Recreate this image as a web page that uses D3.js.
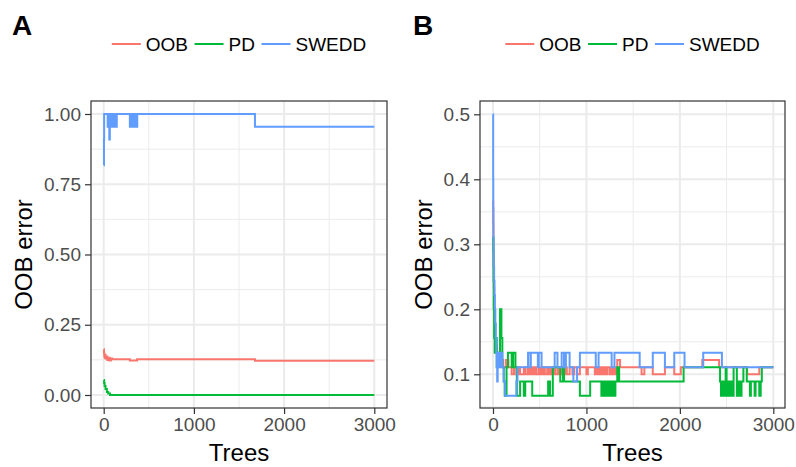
<!DOCTYPE html>
<html>
<head>
<meta charset="utf-8">
<script src="https://cdnjs.cloudflare.com/ajax/libs/d3/7.8.5/d3.min.js"></script>
<style>
  html, body { margin: 0; padding: 0; background: #fff; }
  svg { display: block; font-family: "Liberation Sans", Arial, Helvetica, sans-serif; }
</style>
</head>
<body>
<svg id="chart" width="796" height="467"></svg>
<script>
// Series names, in drawing order (SWEDD ends up on top)
const seriesNames = ["OOB", "PD", "SWEDD"];

// Axis ticks
const xTicks = [0, 1000, 2000, 3000];
const yTicksA = [0, 0.25, 0.5, 0.75, 1];
const yTicksB = [0.1, 0.2, 0.3, 0.4, 0.5];

// Panel A: OOB error per number of trees, [trees, error] at each change
const aOOB = [[1,0.163],[3,0.15],[6,0.14],[10,0.133],[15,0.143],[20,0.13],[30,0.137],[40,0.125],
  [50,0.133],[65,0.123],[80,0.13],[95,0.127],[290,0.123],[370,0.127],[1677,0.122],[3000,0.122]];
const aPD = [[1,0.053],[5,0.043],[10,0.032],[20,0.021],[35,0.011],[50,0.005],[70,0],[3000,0]];
const aSWEDD = [[1,0.818],[3,0.909],[5,1],[44,0.955],[50,1],[55,0.955],[62,0.909],[68,1],[75,0.955],
  [85,1],[95,0.955],[105,1],[115,0.955],[125,1],[135,0.955],[145,1],[155,1],[290,0.955],[300,1],
  [310,0.955],[325,1],[335,0.955],[350,1],[360,0.955],[372,1],[1677,0.955],[3000,0.955]];

// Panel B: OOB error per number of trees, [trees, error] at each change
const bOOB = [[1,0.367],[2,0.333],[4,0.3],[6,0.267],[9,0.233],[13,0.2],[18,0.178],[24,0.156],[32,0.144],
  [40,0.133],[55,0.122],[70,0.133],[90,0.122],[110,0.111],[140,0.122],[165,0.111],[200,0.1],[225,0.111],
  [250,0.1],[275,0.111],[290,0.1],[330,0.111],[345,0.1],[370,0.111],[385,0.1],[400,0.111],[410,0.1],
  [430,0.111],[440,0.1],[455,0.111],[465,0.1],[490,0.111],[500,0.1],[515,0.111],[525,0.1],[545,0.111],
  [555,0.1],[580,0.111],[595,0.1],[615,0.111],[630,0.1],[650,0.111],[665,0.1],[690,0.111],[705,0.1],
  [720,0.111],[740,0.1],[770,0.111],[790,0.1],[820,0.111],[850,0.1],[870,0.111],[900,0.1],[930,0.111],
  [1000,0.1],[1015,0.111],[1090,0.1],[1100,0.111],[1120,0.1],[1135,0.111],[1150,0.1],[1160,0.111],
  [1180,0.1],[1190,0.111],[1210,0.1],[1225,0.111],[1250,0.1],[1260,0.111],[1280,0.1],[1290,0.111],
  [1310,0.1],[1320,0.111],[1330,0.122],[1360,0.111],[1590,0.1],[1620,0.111],[1710,0.1],[1840,0.111],
  [1940,0.1],[2010,0.111],[2240,0.122],[2420,0.111],[2720,0.1],[2850,0.111],[3000,0.111]];
const bPD = [[1,0.311],[3,0.289],[5,0.244],[8,0.2],[12,0.156],[18,0.133],[30,0.156],[40,0.111],[55,0.133],
  [75,0.2],[90,0.156],[100,0.111],[115,0.089],[125,0.067],[145,0.111],[160,0.133],[200,0.111],[215,0.133],
  [240,0.111],[255,0.067],[290,0.089],[330,0.067],[345,0.089],[420,0.067],[590,0.089],[610,0.067],
  [640,0.111],[720,0.089],[750,0.111],[760,0.089],[930,0.067],[1040,0.089],[1160,0.067],[1175,0.089],
  [1190,0.067],[1205,0.089],[1225,0.067],[1240,0.089],[1260,0.067],[1280,0.089],[1295,0.067],[1310,0.089],
  [1330,0.111],[1350,0.089],[2040,0.111],[2430,0.089],[2440,0.067],[2460,0.089],[2475,0.067],[2490,0.111],
  [2500,0.067],[2515,0.089],[2530,0.067],[2545,0.089],[2560,0.067],[2575,0.111],[2610,0.067],[2625,0.089],
  [2640,0.067],[2660,0.089],[2680,0.111],[2716,0.089],[2750,0.067],[2760,0.089],[2800,0.067],[2810,0.089],
  [2850,0.067],[2865,0.089],[2877,0.111],[3000,0.111]];
const bSWEDD = [[1,0.5],[2,0.4],[3,0.356],[5,0.311],[8,0.267],[12,0.244],[16,0.222],[20,0.2],[25,0.178],
  [30,0.156],[35,0.133],[40,0.111],[45,0.089],[50,0.133],[65,0.111],[80,0.133],[100,0.111],[115,0.089],
  [130,0.067],[250,0.089],[262,0.111],[375,0.133],[400,0.111],[405,0.133],[480,0.111],[490,0.133],
  [520,0.111],[660,0.133],[690,0.111],[735,0.133],[760,0.111],[780,0.133],[820,0.111],[860,0.089],
  [900,0.111],[930,0.133],[1100,0.111],[1130,0.133],[1270,0.111],[1300,0.133],[1570,0.111],[1710,0.133],
  [1840,0.111],[1940,0.133],[2050,0.111],[2250,0.133],[2450,0.111],[3000,0.111]];

const colors = { OOB: "#F8766D", PD: "#00BA38", SWEDD: "#619CFF" };

const panels = [
  {
    tag: "A", tagX: 12,
    box: { left: 91, right: 387, top: 101, bottom: 408 },
    xRange: [103.7, 374.3],
    yDomain: [0, 1], yRange: [395, 114],
    yTicks: yTicksA, yFmt: d3.format(".2f"),
    yMinor: [0.125, 0.375, 0.625, 0.875],
    series: { OOB: aOOB, PD: aPD, SWEDD: aSWEDD },
    yTitleX: 32
  },
  {
    tag: "B", tagX: 413,
    box: { left: 480, right: 785, top: 101, bottom: 408 },
    xRange: [493, 773.3],
    yDomain: [0.1, 0.5], yRange: [374.3, 114.3],
    yTicks: yTicksB, yFmt: d3.format(".1f"),
    yMinor: [0.05, 0.15, 0.25, 0.35, 0.45],
    series: { OOB: bOOB, PD: bPD, SWEDD: bSWEDD },
    yTitleX: 432
  }
];

const svg = d3.select("#chart");
const xMinor = [500, 1500, 2500];

panels.forEach(p => {
  const b = p.box;
  const x = d3.scaleLinear().domain([0, 3000]).range(p.xRange);
  const y = d3.scaleLinear().domain(p.yDomain).range(p.yRange);
  const g = svg.append("g");

  // panel background
  g.append("rect").attr("x", b.left).attr("y", b.top)
    .attr("width", b.right - b.left).attr("height", b.bottom - b.top).attr("fill", "#fff");

  const clipId = "clip" + p.tag;
  svg.append("clipPath").attr("id", clipId).append("rect")
    .attr("x", b.left).attr("y", b.top).attr("width", b.right - b.left).attr("height", b.bottom - b.top);

  const grid = g.append("g").attr("clip-path", `url(#${clipId})`);
  // minor grid
  grid.selectAll(".xmin").data(xMinor).join("line")
    .attr("x1", d => x(d)).attr("x2", d => x(d)).attr("y1", b.top).attr("y2", b.bottom)
    .attr("stroke", "#EBEBEB").attr("stroke-width", 1);
  grid.selectAll(".ymin").data(p.yMinor).join("line")
    .attr("y1", d => y(d)).attr("y2", d => y(d)).attr("x1", b.left).attr("x2", b.right)
    .attr("stroke", "#EBEBEB").attr("stroke-width", 1);
  // major grid
  grid.selectAll(".xmaj").data(xTicks).join("line")
    .attr("x1", d => x(d)).attr("x2", d => x(d)).attr("y1", b.top).attr("y2", b.bottom)
    .attr("stroke", "#EBEBEB").attr("stroke-width", 2);
  grid.selectAll(".ymaj").data(p.yTicks).join("line")
    .attr("y1", d => y(d)).attr("y2", d => y(d)).attr("x1", b.left).attr("x2", b.right)
    .attr("stroke", "#EBEBEB").attr("stroke-width", 2);

  // step lines
  const line = d3.line().x(d => x(d[0])).y(d => y(d[1])).curve(d3.curveStepAfter);
  const lines = g.append("g").attr("clip-path", `url(#${clipId})`);
  seriesNames.forEach(name => {
    lines.append("path").datum(p.series[name])
      .attr("d", line).attr("fill", "none")
      .attr("stroke", colors[name]).attr("stroke-width", 2)
      .attr("stroke-linejoin", "miter");
  });

  // panel border
  g.append("rect").attr("x", b.left).attr("y", b.top)
    .attr("width", b.right - b.left).attr("height", b.bottom - b.top)
    .attr("fill", "none").attr("stroke", "#333333").attr("stroke-width", 1.2);

  // axes
  const xAxis = g.append("g").attr("transform", `translate(0,${b.bottom})`)
    .call(d3.axisBottom(x).tickValues(xTicks).tickFormat(d3.format("d")).tickSize(6).tickPadding(4));
  const yAxis = g.append("g").attr("transform", `translate(${b.left},0)`)
    .call(d3.axisLeft(y).tickValues(p.yTicks).tickFormat(p.yFmt).tickSize(6).tickPadding(4));
  [xAxis, yAxis].forEach(a => {
    a.select(".domain").remove();
    a.selectAll(".tick line").attr("stroke", "#333333").attr("stroke-width", 1.2);
    a.selectAll(".tick text").attr("fill", "#4D4D4D")
      .style("font-size", "19px").style("font-family", "'Liberation Sans', Arial, sans-serif");
  });

  // axis titles
  const cx = (b.left + b.right) / 2;
  const cy = (b.top + b.bottom) / 2;
  g.append("text").attr("x", cx).attr("y", 461).attr("text-anchor", "middle")
    .style("font-size", "24px").attr("fill", "#000").text("Trees");
  g.append("text").attr("transform", `translate(${p.yTitleX},${cy}) rotate(-90)`)
    .attr("text-anchor", "middle").style("font-size", "24px").attr("fill", "#000").text("OOB error");

  // panel tag
  g.append("text").attr("x", p.tagX).attr("y", 35).style("font-size", "28px")
    .style("font-weight", "bold").attr("fill", "#000").text(p.tag);

  // legend
  const lg = g.append("g");
  let pos = 0;
  const items = [];
  seriesNames.forEach(name => {
    const item = lg.append("g");
    item.append("line").attr("x1", pos).attr("x2", pos + 29).attr("y1", 44).attr("y2", 44)
      .attr("stroke", colors[name]).attr("stroke-width", 2);
    const t = item.append("text").attr("x", pos + 34).attr("y", 50.5)
      .style("font-size", "19px").attr("fill", "#000").text(name);
    pos += 34 + t.node().getComputedTextLength() + 6.5;
    items.push(item);
  });
  const total = pos - 6.5;
  lg.attr("transform", `translate(${cx - total / 2},0)`);
});
</script>
</body>
</html>
